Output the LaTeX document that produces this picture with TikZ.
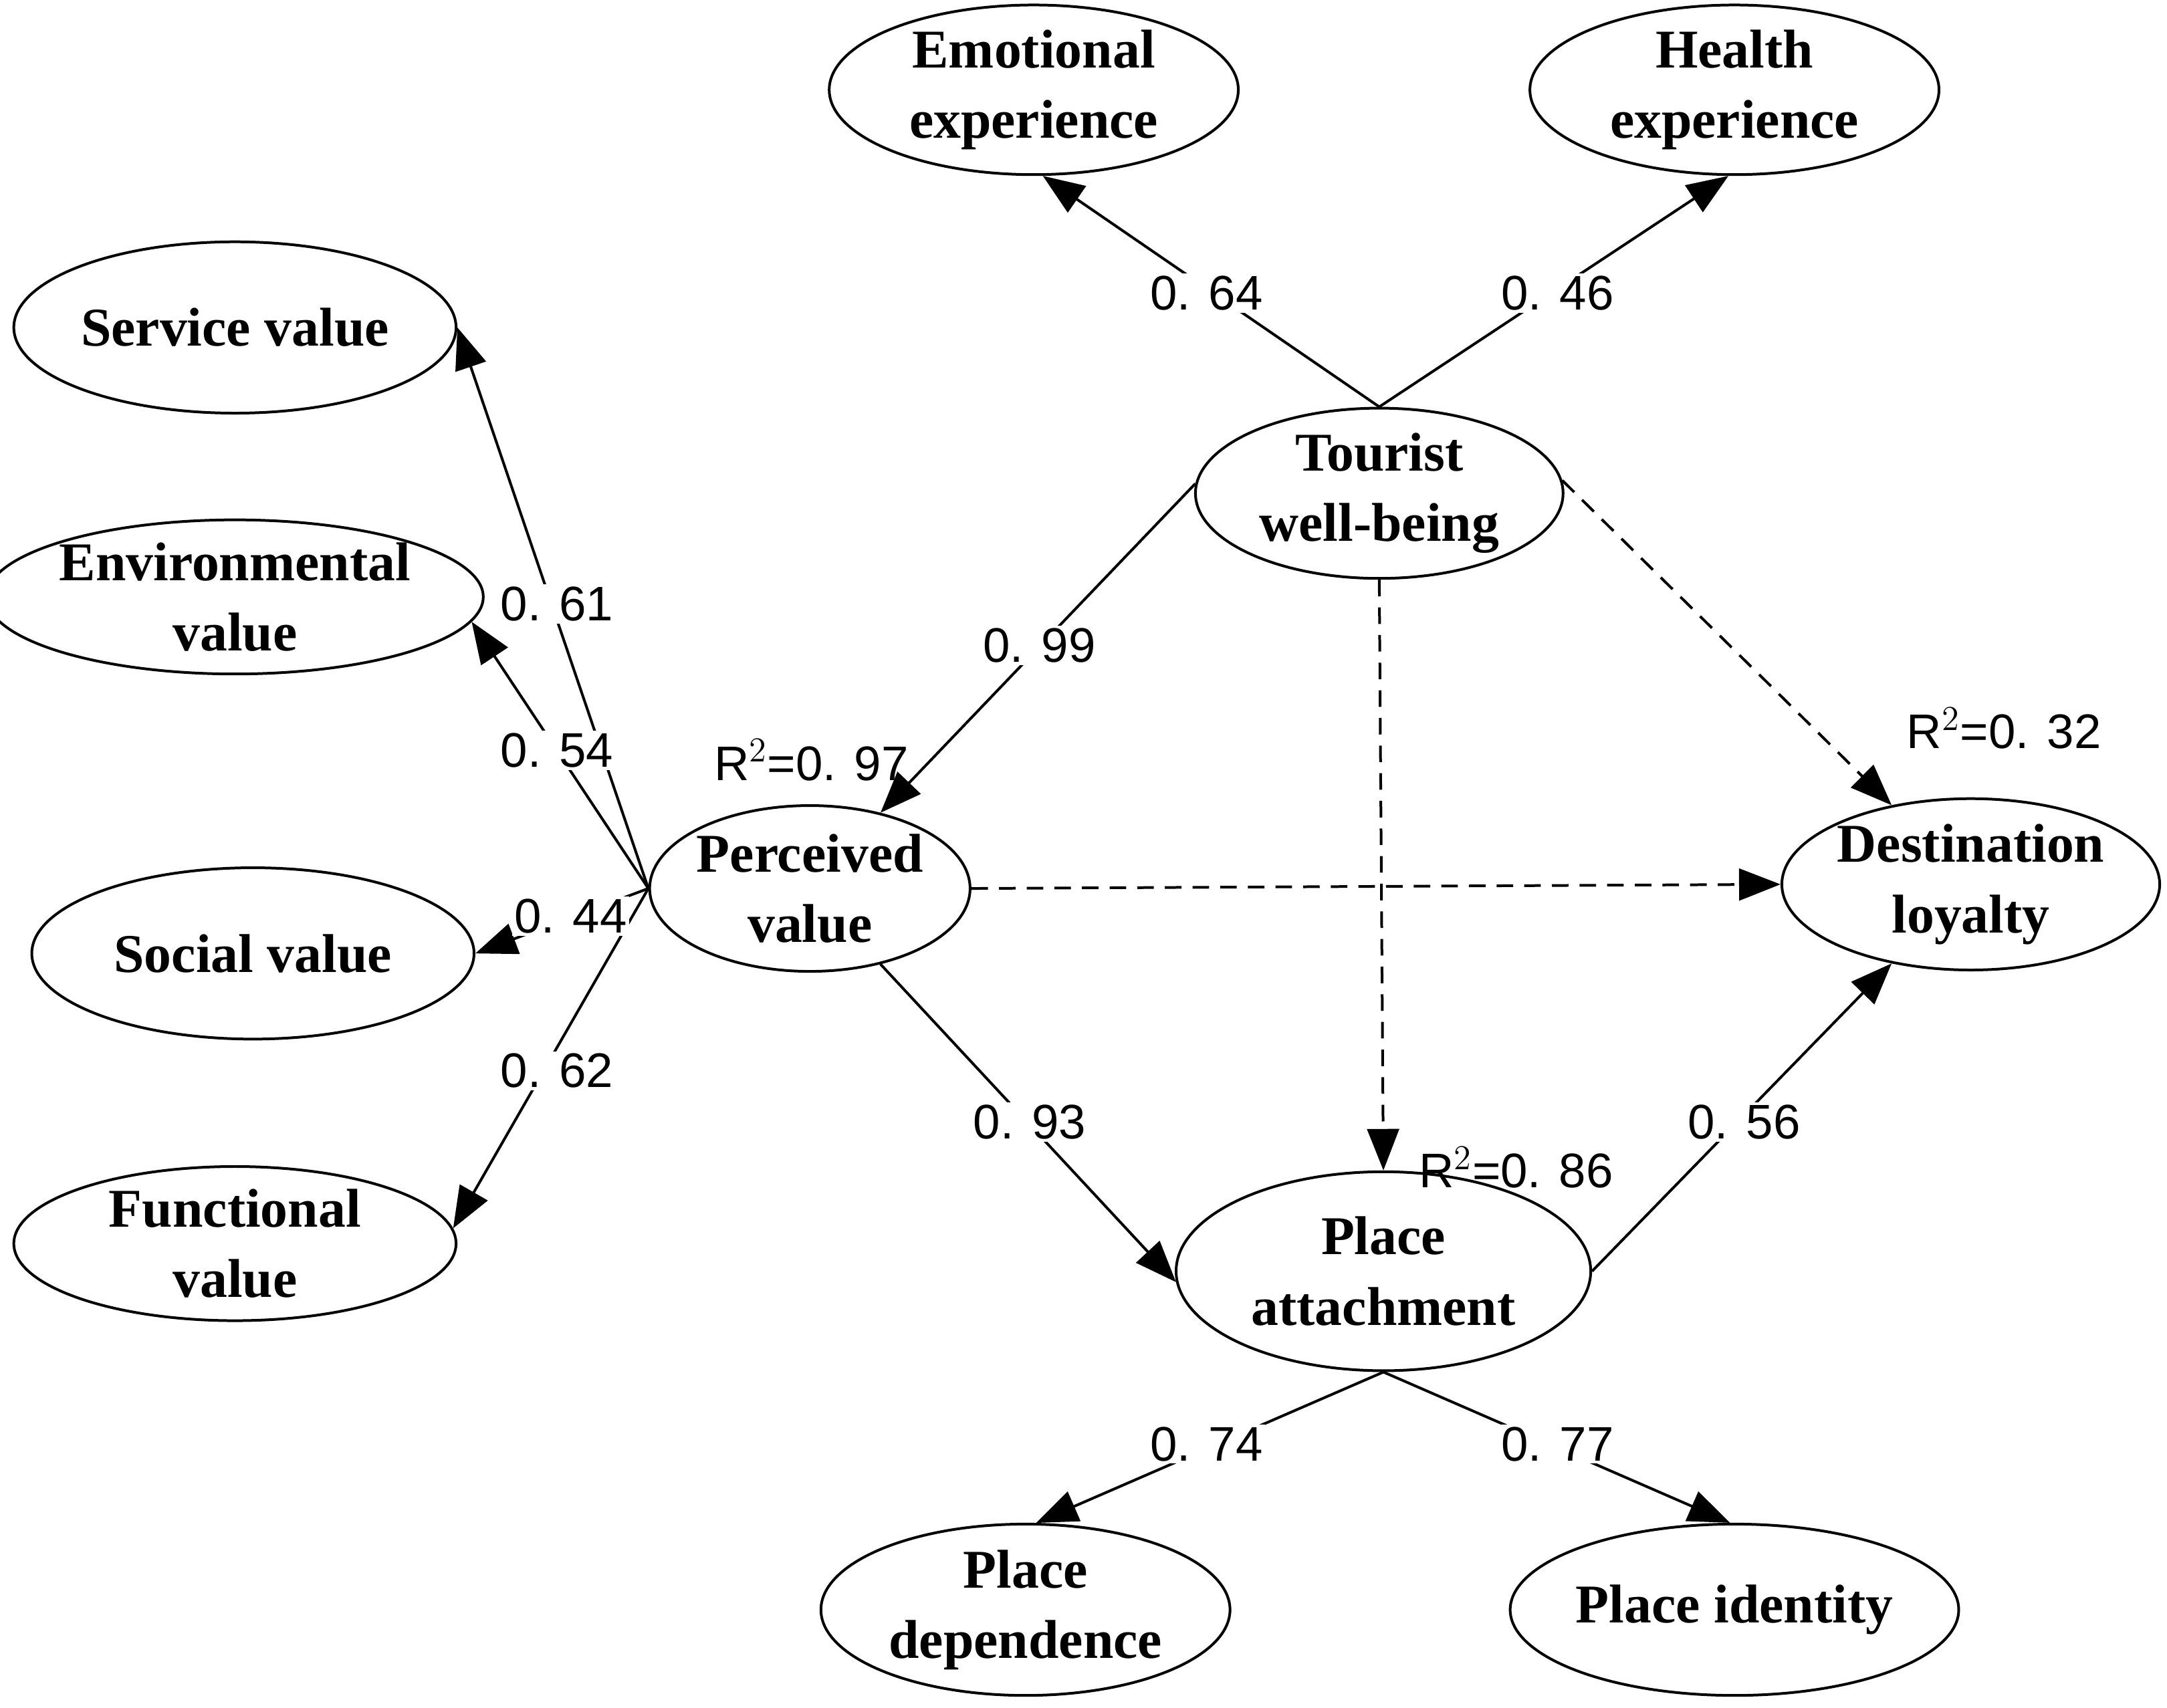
\documentclass[tikz,border=0pt]{standalone}
\usepackage{fontspec}
\setmainfont{Liberation Serif}
\newfontfamily\numf{Liberation Sans}
\usetikzlibrary{shapes.geometric,arrows.meta}
\begin{document}
\begin{tikzpicture}[
 el/.style={ellipse,draw,line width=1.1pt,inner sep=0pt,align=center,font=\fontsize{22.5}{29}\selectfont\bfseries},
 ar/.style={line width=1.1pt,-{Triangle[length=0.6cm,width=0.46cm]}},
 da/.style={ar,dash pattern=on 0.24cm off 0.16cm},
 lb/.style={font=\numf\fontsize{20}{24}\selectfont,fill=white,inner sep=1pt},
 rl/.style={font=\numf\fontsize{20}{24}\selectfont,inner sep=1pt}]
\useasboundingbox (0,0) rectangle (31.36,-24.72);
\node[el,minimum width=5.92cm,minimum height=2.4cm] (emo) at (14.96,-1.30) {Emotional\\experience};
\node[el,minimum width=5.92cm,minimum height=2.4cm] (hea) at (25.10,-1.30) {Health\\experience};
\node[el,minimum width=6.4cm,minimum height=2.48cm] (ser) at (3.40,-4.74) {Service value};
\node[el,minimum width=6.4cm,minimum height=2.0cm] (env) at (3.40,-8.64) {Environmental\\value};
\node[el,minimum width=6.4cm,minimum height=2.48cm] (soc) at (3.66,-13.80) {Social value};
\node[el,minimum width=6.4cm,minimum height=2.2cm] (fun) at (3.40,-18.00) {Functional\\value};
\node[el,minimum width=5.32cm,minimum height=2.4cm] (tw) at (19.96,-7.14) {Tourist\\well-being};
\node[el,minimum width=4.4cm,minimum height=2.4cm] (pv) at (11.72,-12.86) {Perceived\\value};
\node[el,minimum width=5.32cm,minimum height=2.48cm] (dl) at (28.52,-12.80) {Destination\\loyalty};
\node[el,minimum width=6.0cm,minimum height=2.88cm] (pa) at (20.02,-18.40) {Place\\attachment};
\node[el,minimum width=5.92cm,minimum height=2.48cm] (pd) at (14.84,-23.30) {Place\\dependence};
\node[el,minimum width=5.92cm,minimum height=2.48cm] (pi) at (25.10,-23.30) {Place identity};

\draw[ar] (tw.north) -- (emo.-84);
\draw[ar] (tw.north) -- (hea.-94);
\draw[ar] (pv.west) -- (ser.east);
\draw[ar] (pv.west) -- (env.-6);
\draw[ar] (pv.west) -- (soc.east);
\draw[ar] (pv.west) -- (fun.4);
\draw[ar] (tw.177) -- (pv.47);
\draw[da] (pv.east) -- (dl.west);
\draw[da] (tw.south) -- (pa.north);
\draw[da] (tw.4) -- (dl.135);
\draw[ar] (pv.-47) -- (pa.183);
\draw[ar] (pa.east) -- (dl.-135);
\draw[ar] (pa.south) -- (pd.83);
\draw[ar] (pa.south) -- (pi.93);

\node[lb] (l1) at (17.46,-4.24) {0. 64};
\node[lb] (l2) at (22.54,-4.24) {0. 46};
\node[lb] (l3) at (8.06,-8.74) {0. 61};
\node[lb] (l4) at (8.06,-10.86) {0. 54};
\node[lb] (l5) at (8.26,-13.26) {0. 44};
\node[lb] (l6) at (8.06,-15.5) {0. 62};
\node[lb] (l7) at (15.04,-9.34) {0. 99};
\node[lb] (l8) at (14.9,-16.24) {0. 93};
\node[lb] (l9) at (25.24,-16.24) {0. 56};
\node[lb] (l10) at (17.46,-20.9) {0. 74};
\node[lb] (l11) at (22.54,-20.9) {0. 77};
\node[rl] (r1) at (11.74,-11.0) {R$^2$=0. 97};
\node[rl] (r2) at (21.94,-16.9) {R$^2$=0. 86};
\node[rl] (r3) at (29.0,-10.54) {R$^2$=0. 32};
\end{tikzpicture}
\end{document}
